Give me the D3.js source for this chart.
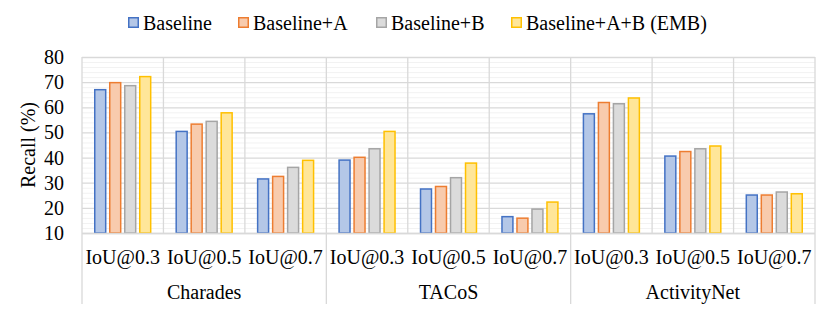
<!DOCTYPE html>
<html>
<head>
<meta charset="utf-8">
<script src="https://cdn.jsdelivr.net/npm/d3@7"></script>
<style>
  html, body { margin: 0; padding: 0; background: #fff; }
</style>
</head>
<body>
<div id="chart"></div>
<script>
// Data
const datasets = ['Charades', 'TACoS', 'ActivityNet'];
const thresholds = ['IoU@0.3', 'IoU@0.5', 'IoU@0.7'];
const seriesNames = ['Baseline', 'Baseline+A', 'Baseline+B', 'Baseline+A+B (EMB)'];
// one row per dataset/threshold group, in series order
const baseline   = [67.3, 50.7, 31.8, 39.3, 27.8, 16.8, 57.7, 40.9, 25.4];
const baselineA  = [70.1, 53.6, 32.8, 40.4, 28.8, 16.2, 62.2, 42.7, 25.4];
const baselineB  = [68.9, 54.7, 36.4, 43.8, 32.3, 19.8, 61.7, 43.8, 26.6];
const baselineAB = [72.5, 58.1, 39.2, 50.7, 38.1, 22.6, 64.0, 44.9, 25.9];
const yTicks = [10, 20, 30, 40, 50, 60, 70, 80];

const fills   = ['#b4c7e7', '#f8cbad', '#dbdbdb', '#ffe699'];
const strokes = ['#4472c4', '#ed7d31', '#a5a5a5', '#ffc000'];

const width = 830, height = 311;
const margin = { left: 82, right: 15, top: 57, bottom: 78 };
const font = '"Liberation Serif", "Times New Roman", serif';

const svg = d3.select('#chart')
    .append('svg')
    .attr('width', width)
    .attr('height', height)
    .style('font-family', font);

// Build groups
const groups = [];
datasets.forEach((ds, i) => {
    thresholds.forEach((th, j) => {
        const k = i * 3 + j;
        groups.push({
            key: ds + '|' + th, dataset: ds, threshold: th,
            values: [baseline[k], baselineA[k], baselineB[k], baselineAB[k]]
        });
    });
});

const plotRight = width - margin.right;
const plotBottom = height - margin.bottom;

const x0 = d3.scaleBand()
    .domain(groups.map(d => d.key))
    .range([margin.left, plotRight]);

const x1 = d3.scaleBand()
    .domain(seriesNames)
    .range([12, x0.bandwidth() - 12])
    .paddingInner(0.17);

const y = d3.scaleLinear()
    .domain([10, 80])
    .range([plotBottom, margin.top]);

// Minor gridlines
svg.append('g')
    .selectAll('line')
    .data(d3.range(12, 80, 2).filter(v => v % 10 !== 0))
    .join('line')
    .attr('x1', margin.left).attr('x2', plotRight)
    .attr('y1', d => y(d) + 0.5).attr('y2', d => y(d) + 0.5)
    .attr('stroke', '#f2f2f2')
    .attr('stroke-width', 1);

// Major gridlines
svg.append('g')
    .selectAll('line')
    .data(yTicks)
    .join('line')
    .attr('x1', margin.left).attr('x2', plotRight)
    .attr('y1', d => y(d) + 0.5).attr('y2', d => y(d) + 0.5)
    .attr('stroke', '#d9d9d9')
    .attr('stroke-width', 1.3);

// Vertical separators between groups (plot area)
const sepX = groups.map(d => x0(d.key)).concat([plotRight]);
svg.append('g')
    .selectAll('line')
    .data(sepX)
    .join('line')
    .attr('x1', d => d).attr('x2', d => d)
    .attr('y1', margin.top)
    .attr('y2', (d, i) => (i % 3 === 0) ? 304 : plotBottom)
    .attr('stroke', '#d9d9d9')
    .attr('stroke-width', 1.3);

// Bars
const groupG = svg.append('g')
    .selectAll('g')
    .data(groups)
    .join('g')
    .attr('transform', d => `translate(${x0(d.key)},0)`);

groupG.selectAll('rect')
    .data(d => d.values.map((v, i) => ({ name: seriesNames[i], value: v, i })))
    .join('rect')
    .attr('x', d => x1(d.name) + 0.75)
    .attr('y', d => y(d.value) + 0.75)
    .attr('width', x1.bandwidth() - 1.5)
    .attr('height', d => plotBottom - y(d.value) - 0.75)
    .attr('fill', d => fills[d.i])
    .attr('stroke', d => strokes[d.i])
    .attr('stroke-width', 1.5);

// Category axis line
svg.append('line')
    .attr('x1', margin.left).attr('x2', plotRight)
    .attr('y1', plotBottom + 0.5).attr('y2', plotBottom + 0.5)
    .attr('stroke', '#d9d9d9')
    .attr('stroke-width', 1.3);

// Y tick labels
svg.append('g')
    .selectAll('text')
    .data(yTicks)
    .join('text')
    .attr('x', 64)
    .attr('y', d => y(d))
    .attr('dy', '0.35em')
    .attr('text-anchor', 'end')
    .style('font-size', '20px')
    .attr('fill', '#000')
    .text(d => d);

// Y axis title
svg.append('text')
    .attr('transform', 'translate(35,145) rotate(-90)')
    .attr('text-anchor', 'middle')
    .style('font-size', '20px')
    .text('Recall (%)');

// Threshold labels
svg.append('g')
    .selectAll('text')
    .data(groups)
    .join('text')
    .attr('x', d => x0(d.key) + x0.bandwidth() / 2)
    .attr('y', 257)
    .attr('dy', '0.35em')
    .attr('text-anchor', 'middle')
    .style('font-size', '20px')
    .text(d => d.threshold);

// Dataset labels
svg.append('g')
    .selectAll('text')
    .data(datasets)
    .join('text')
    .attr('x', (d, i) => x0(groups[i * 3].key) + x0.bandwidth() * 1.5)
    .attr('y', 292)
    .attr('dy', '0.35em')
    .attr('text-anchor', 'middle')
    .style('font-size', '20px')
    .text(d => d);

// Legend
const legendX = [128, 238, 376, 511];
const legend = svg.append('g')
    .selectAll('g')
    .data(seriesNames)
    .join('g')
    .attr('transform', (d, i) => `translate(${legendX[i]},22)`);

legend.append('rect')
    .attr('x', 0.75).attr('y', -4.25)
    .attr('width', 9.5).attr('height', 9.5)
    .attr('fill', (d, i) => fills[i])
    .attr('stroke', (d, i) => strokes[i])
    .attr('stroke-width', 1.5);

legend.append('text')
    .attr('x', 15)
    .attr('y', 1)
    .attr('dy', '0.35em')
    .style('font-size', '20px')
    .text(d => d);
</script>
</body>
</html>
